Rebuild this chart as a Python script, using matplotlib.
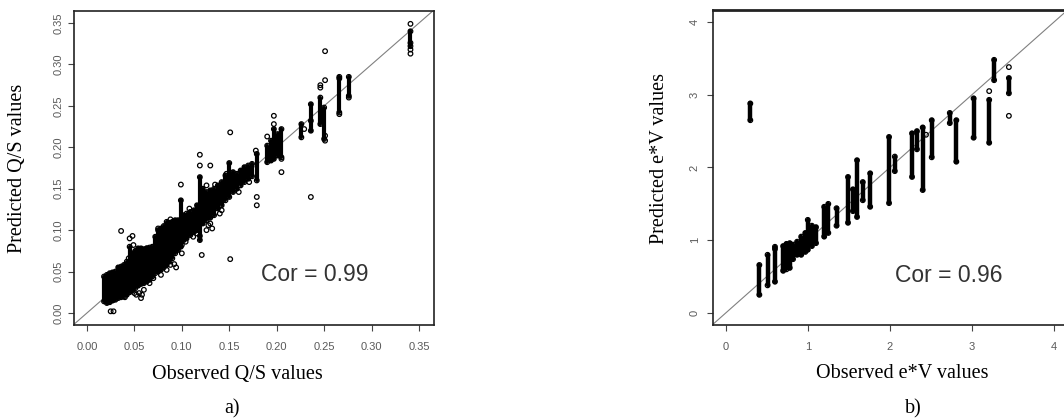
import numpy as np
import matplotlib
matplotlib.use('Agg')
import matplotlib.pyplot as plt

# ---- panel a) Q/S : vertical clusters (observed x, predicted min, predicted max)
qs_strip_x = [0.018, 0.021, 0.024, 0.027, 0.030, 0.033, 0.036, 0.039, 0.042, 0.045,
              0.048, 0.051, 0.054, 0.057, 0.060, 0.063, 0.066, 0.069, 0.072, 0.075,
              0.078, 0.081, 0.084, 0.087, 0.090, 0.093, 0.096, 0.099, 0.102, 0.105,
              0.109, 0.113, 0.116, 0.119, 0.122, 0.126, 0.130, 0.134, 0.138, 0.142,
              0.146, 0.150, 0.154, 0.158, 0.162, 0.166, 0.170, 0.174, 0.179, 0.190,
              0.194, 0.197, 0.201, 0.205, 0.226, 0.236, 0.246, 0.250, 0.266, 0.276, 0.341]
qs_strip_lo = [0.014, 0.012, 0.013, 0.015, 0.016, 0.018, 0.019, 0.020, 0.022, 0.025,
               0.027, 0.030, 0.033, 0.035, 0.036, 0.038, 0.040, 0.044, 0.048, 0.050,
               0.052, 0.055, 0.058, 0.062, 0.066, 0.072, 0.076, 0.080, 0.088, 0.090,
               0.094, 0.098, 0.100, 0.088, 0.108, 0.112, 0.115, 0.118, 0.126, 0.130,
               0.136, 0.140, 0.146, 0.150, 0.154, 0.158, 0.162, 0.165, 0.160, 0.182,
               0.184, 0.186, 0.190, 0.188, 0.212, 0.220, 0.228, 0.210, 0.242, 0.262, 0.322]
qs_strip_hi = [0.044, 0.046, 0.048, 0.049, 0.050, 0.055, 0.056, 0.058, 0.062, 0.080,
               0.072, 0.075, 0.078, 0.078, 0.077, 0.078, 0.079, 0.080, 0.092, 0.100,
               0.102, 0.105, 0.110, 0.109, 0.110, 0.112, 0.112, 0.136, 0.118, 0.120,
               0.122, 0.124, 0.130, 0.164, 0.150, 0.146, 0.148, 0.150, 0.154, 0.158,
               0.166, 0.181, 0.170, 0.168, 0.172, 0.176, 0.178, 0.180, 0.192, 0.202,
               0.208, 0.222, 0.216, 0.222, 0.228, 0.252, 0.260, 0.248, 0.285, 0.285, 0.340]
# isolated points
qs_pt_x = [0.036, 0.045, 0.048, 0.025, 0.028, 0.034, 0.040, 0.050, 0.052, 0.057, 0.058,
           0.060, 0.080, 0.082, 0.088, 0.094, 0.092, 0.100, 0.100, 0.099, 0.113, 0.119,
           0.119, 0.121, 0.119, 0.126, 0.128, 0.130, 0.126, 0.130, 0.132, 0.140, 0.151,
           0.151, 0.179, 0.179, 0.178, 0.190, 0.197, 0.197, 0.205, 0.205, 0.236, 0.246,
           0.246, 0.251, 0.251, 0.251, 0.251, 0.266, 0.266, 0.276, 0.341, 0.341, 0.341,
           0.341, 0.229, 0.236,
           0.044, 0.049, 0.055, 0.063, 0.066, 0.070, 0.075, 0.078, 0.084, 0.088,
           0.104, 0.108, 0.112, 0.116, 0.135, 0.142, 0.147, 0.160, 0.171]
qs_pt_y = [0.099, 0.090, 0.093, 0.002, 0.002, 0.020, 0.019, 0.024, 0.022, 0.018, 0.022,
           0.028, 0.070, 0.078, 0.058, 0.055, 0.059, 0.082, 0.072, 0.155, 0.113, 0.191,
           0.178, 0.070, 0.093, 0.100, 0.106, 0.178, 0.154, 0.108, 0.102, 0.120, 0.065,
           0.218, 0.140, 0.130, 0.196, 0.213, 0.238, 0.228, 0.170, 0.186, 0.140, 0.275,
           0.272, 0.281, 0.316, 0.208, 0.214, 0.240, 0.283, 0.260, 0.349, 0.313, 0.318,
           0.326, 0.222, 0.232,
           0.066, 0.082, 0.024, 0.078, 0.036, 0.042, 0.102, 0.046, 0.052, 0.113,
           0.086, 0.126, 0.092, 0.096, 0.155, 0.124, 0.168, 0.146, 0.158]
qs_ticks = [0.00, 0.05, 0.10, 0.15, 0.20, 0.25, 0.30, 0.35]
qs_ticklabels = ['0.00', '0.05', '0.10', '0.15', '0.20', '0.25', '0.30', '0.35']

# ---- panel b) e*V
ev_strip_x = [0.30, 0.41, 0.51, 0.60, 0.70, 0.74, 0.78, 0.82, 0.87, 0.92, 0.97, 1.00,
              1.05, 1.10, 1.20, 1.25, 1.35, 1.49, 1.55, 1.60, 1.67, 1.76, 1.99, 2.06,
              2.27, 2.33, 2.40, 2.51, 2.73, 2.81, 3.02, 3.21, 3.27, 3.45]
ev_strip_lo = [2.65, 0.25, 0.38, 0.43, 0.58, 0.60, 0.62, 0.74, 0.80, 0.80, 0.84, 0.87,
               0.92, 0.96, 1.05, 1.10, 1.20, 1.24, 1.40, 1.32, 1.55, 1.46, 1.51, 1.95,
               1.87, 2.25, 1.69, 2.14, 2.61, 2.08, 2.41, 2.34, 3.20, 3.02]
ev_strip_hi = [2.88, 0.66, 0.80, 0.91, 0.92, 0.95, 0.96, 0.94, 0.98, 1.05, 1.10, 1.28,
               1.20, 1.18, 1.46, 1.50, 1.44, 1.87, 1.70, 2.10, 1.80, 1.92, 2.42, 2.15,
               2.47, 2.50, 2.55, 2.65, 2.75, 2.65, 2.95, 2.93, 3.48, 3.23]
ev_pt_x = [0.60, 2.44, 3.21, 3.45, 3.45]
ev_pt_y = [0.88, 2.45, 3.05, 3.38, 2.71]
ev_ticks = [0, 1, 2, 3, 4]
ev_ticklabels = ['0', '1', '2', '3', '4']

SANS = 'Liberation Sans'
SERIF = 'Liberation Serif'
TICKC = '#5a5a5a'

fig = plt.figure(figsize=(10.64, 4.2), dpi=100)


def style_axes(ax, ticks, labels, xpad, ypad):
    ax.set_xticks(ticks)
    ax.set_xticklabels(labels, fontsize=8, family=SANS, color=TICKC)
    ax.set_yticks(ticks)
    ax.set_yticklabels(labels, fontsize=8, family=SANS, color=TICKC,
                       rotation=90, va='center')
    ax.tick_params(axis='x', direction='out', length=4, width=0.8, color='#444444', pad=xpad)
    ax.tick_params(axis='y', direction='out', length=4, width=0.8, color='#444444', pad=ypad)
    for s in ax.spines.values():
        s.set_linewidth(1.2)
        s.set_color('#222222')


def draw_panel(ax, sx, slo, shi, px, py, lw):
    ax.axline((0, 0), slope=1, color='#808080', linewidth=0.8, zorder=1)
    ax.vlines(sx, slo, shi, colors='black', linewidth=lw, capstyle='round', zorder=2)
    ax.scatter(sx, slo, s=11, facecolors='none', edgecolors='black', linewidths=0.9, zorder=3)
    ax.scatter(sx, shi, s=11, facecolors='none', edgecolors='black', linewidths=0.9, zorder=3)
    ax.scatter(px, py, s=11, facecolors='none', edgecolors='black', linewidths=0.9, zorder=3)


# a)
ax1 = fig.add_axes([0.0695, 0.2262, 0.3384, 0.7476])
draw_panel(ax1, qs_strip_x, qs_strip_lo, qs_strip_hi, qs_pt_x, qs_pt_y, 3.0)
ax1.set_xlim(-0.0137, 0.3658)
ax1.set_ylim(-0.0145, 0.3645)
style_axes(ax1, qs_ticks, qs_ticklabels, 8, 3.5)
ax1.text(0.240, 0.046, 'Cor = 0.99', fontsize=16.5, family=SANS, color='#333333',
         ha='center', va='center')

# b)
ax2 = fig.add_axes([0.6701, 0.2262, 0.3402, 0.7500])
draw_panel(ax2, ev_strip_x, ev_strip_lo, ev_strip_hi, ev_pt_x, ev_pt_y, 3.2)
ax2.set_xlim(-0.155, 4.255)
ax2.set_ylim(-0.165, 4.165)
style_axes(ax2, ev_ticks, ev_ticklabels, 8, 5.5)
ax2.spines['top'].set_linewidth(2.0)
ax2.text(2.72, 0.52, 'Cor = 0.96', fontsize=16.5, family=SANS, color='#333333',
         ha='center', va='center')

# axis titles and panel letters
fig.text(237 / 1064, 1 - 374 / 420, 'Observed Q/S values', family=SERIF, fontsize=14.5,
         ha='center', va='center')
fig.text(18 / 1064, 1 - 168 / 420, 'Predicted Q/S values', family=SERIF, fontsize=14.5,
         ha='center', va='center', rotation=90)
fig.text(902 / 1064, 1 - 374 / 420, 'Observed e*V values', family=SERIF, fontsize=14.5,
         ha='center', va='center')
fig.text(659 / 1064, 1 - 159 / 420, 'Predicted e*V values', family=SERIF, fontsize=14.5,
         ha='center', va='center', rotation=90)
fig.text(232 / 1064, 1 - 409 / 420, 'a)', family=SERIF, fontsize=14.5, ha='center', va='center')
fig.text(913 / 1064, 1 - 409 / 420, 'b)', family=SERIF, fontsize=14.5, ha='center', va='center')

fig.savefig('out.png', dpi=100)
